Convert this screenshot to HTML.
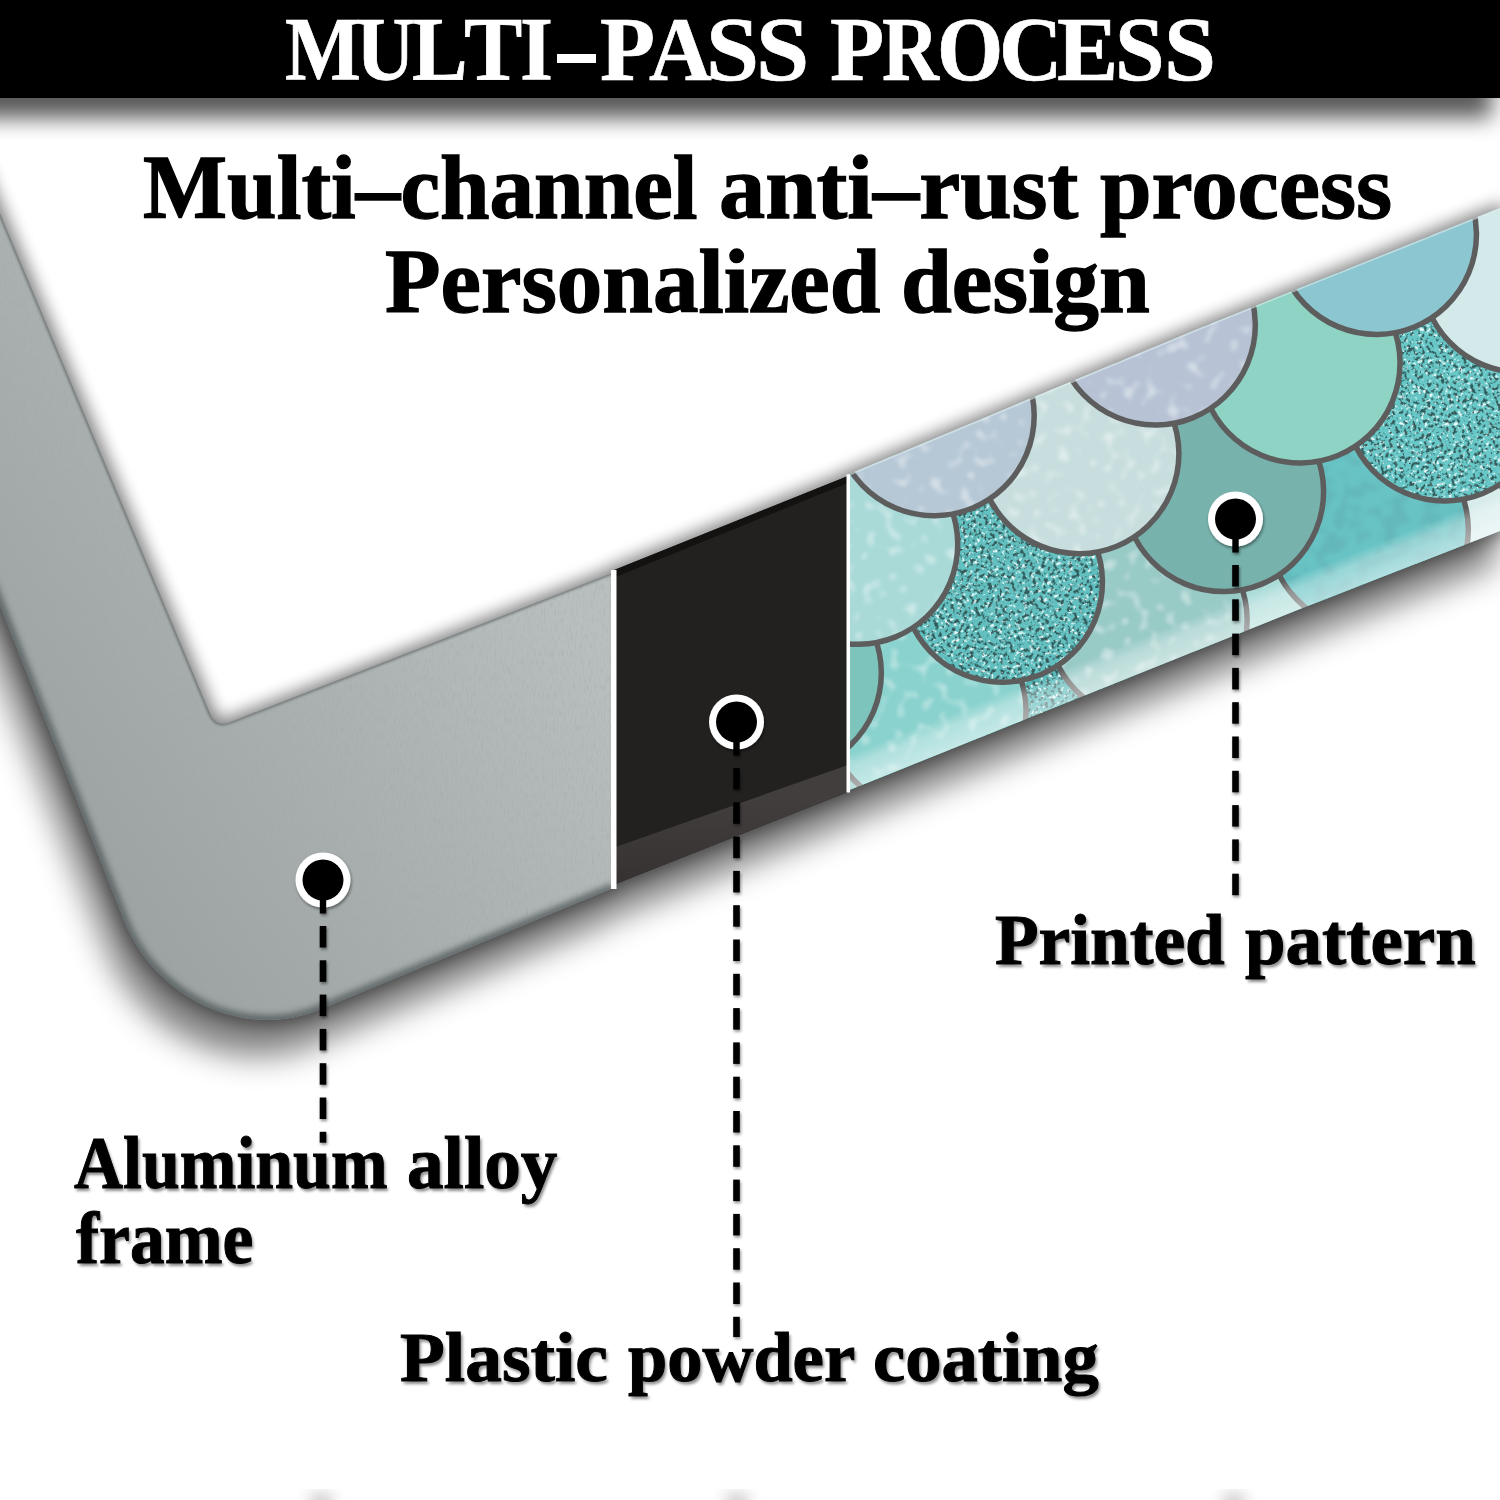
<!DOCTYPE html>
<html><head><meta charset="utf-8">
<style>
html,body{margin:0;padding:0;background:#fff;width:1500px;height:1500px;overflow:hidden;position:relative}
.t{position:absolute;font-family:"Liberation Serif",serif;font-weight:bold;white-space:nowrap;line-height:1;transform-origin:0 0}
.lab{text-shadow:2px 3px 3px rgba(0,0,0,.45);-webkit-text-stroke:1px #000}
.big{-webkit-text-stroke:1.3px #000}
.hdr{-webkit-text-stroke:0.7px #fff}
</style></head><body>
<svg width="1500" height="1500" viewBox="0 0 1500 1500" style="position:absolute;left:0;top:0">
<defs>
 <filter id="blurS" x="-20%" y="-20%" width="140%" height="140%"><feGaussianBlur stdDeviation="16"/></filter>
 <filter id="blurA" x="-20%" y="-20%" width="140%" height="140%"><feGaussianBlur stdDeviation="8"/></filter>
 <filter id="blur20" x="-20%" y="-20%" width="140%" height="140%"><feGaussianBlur stdDeviation="24"/></filter>
 <filter id="speck" x="0" y="0" width="100%" height="100%">
  <feTurbulence type="fractalNoise" baseFrequency="0.28" numOctaves="3" seed="4" result="n"/>
  <feColorMatrix in="n" type="matrix" values="0 0 0 0 0.03  0 0 0 0 0.1  0 0 0 0 0.1  12 0 0 0 -6.6" result="dk"/>
  <feColorMatrix in="n" type="matrix" values="0 0 0 0 0.85  0 0 0 0 0.97  0 0 0 0 0.97  0 12 0 0 -7.4" result="wt"/>
  <feMerge result="mm"><feMergeNode in="wt"/><feMergeNode in="dk"/></feMerge>
  <feComposite in="mm" in2="SourceAlpha" operator="in"/>
 </filter>
 <linearGradient id="bev" gradientUnits="userSpaceOnUse" x1="0" y1="800" x2="0" y2="880">
  <stop offset="0" stop-color="#423e3e"/><stop offset="1" stop-color="#363232"/>
 </linearGradient>
 <filter id="blur6" x="-20%" y="-50%" width="140%" height="200%"><feGaussianBlur stdDeviation="9"/></filter>
 <filter id="ds" x="-50%" y="-50%" width="200%" height="200%"><feDropShadow dx="1" dy="2" stdDeviation="1.6" flood-color="#000" flood-opacity=".45"/></filter>
 <linearGradient id="bstrip" gradientUnits="userSpaceOnUse" x1="1087.6" y1="659" x2="1100" y2="690">
  <stop offset="0" stop-color="#fff" stop-opacity="0"/><stop offset=".35" stop-color="#fff" stop-opacity=".32"/><stop offset="1" stop-color="#fff" stop-opacity=".5"/>
 </linearGradient>
 <filter id="blurH" x="-20%" y="-50%" width="140%" height="200%"><feGaussianBlur stdDeviation="11"/></filter>
 <filter id="bokeh" x="0" y="0" width="100%" height="100%">
  <feTurbulence type="fractalNoise" baseFrequency="0.085" numOctaves="1" seed="11" result="n"/>
  <feColorMatrix in="n" type="matrix" values="0 0 0 0 1  0 0 0 0 1  0 0 0 0 1  0 5 0 0 -2.75" result="w"/>
  <feGaussianBlur in="w" stdDeviation="1.5" result="wb"/>
  <feComposite in="wb" in2="SourceAlpha" operator="in" result="c"/>
  <feComponentTransfer in="c"><feFuncA type="linear" slope=".4"/></feComponentTransfer>
 </filter>
 <filter id="marble" x="0" y="0" width="100%" height="100%">
  <feTurbulence type="fractalNoise" baseFrequency="0.07" numOctaves="2" seed="21" result="n"/>
  <feColorMatrix in="n" type="matrix" values="0 0 0 0 0.12  0 0 0 0 0.45  0 0 0 0 0.47  9 0 0 0 -4.3" result="w"/>
  <feGaussianBlur in="w" stdDeviation="2" result="wb"/>
  <feComposite in="wb" in2="SourceAlpha" operator="in" result="c"/>
  <feComponentTransfer in="c"><feFuncA type="linear" slope=".7"/></feComponentTransfer>
 </filter>
 <clipPath id="gclip"><path d="M -238 0 L -89.5 0 L 210.2 713.7 Q 216 727.5 230 722 L 613 572.5 L 613 888 L 320 1009.5 C 243.3 1041.3, 154.2 997.3, 123.8 920 L -238 0 Z"/></clipPath>
 <filter id="blur3" x="-10%" y="-10%" width="120%" height="120%"><feGaussianBlur stdDeviation="3"/></filter>
 <filter id="blur1" x="-10%" y="-10%" width="120%" height="120%"><feGaussianBlur stdDeviation="1"/></filter>
 <clipPath id="mclip"><polygon points="847,475 1200,328 1400,248 1500,208 1500,531 1300,609 847,791"/></clipPath>
 <linearGradient id="gg" gradientUnits="userSpaceOnUse" x1="150" y1="950" x2="600" y2="650">
  <stop offset="0" stop-color="#9da3a3"/><stop offset="1" stop-color="#b9bfbf"/>
 </linearGradient>
 <filter id="grain" x="0" y="0" width="100%" height="100%">
  <feTurbulence type="fractalNoise" baseFrequency="0.9 0.12" numOctaves="2" seed="7" result="n"/>
  <feColorMatrix in="n" type="matrix" values="0 0 0 0 0.35  0 0 0 0 0.38  0 0 0 0 0.38  0 0 0 3 -1.45" result="m"/>
  <feComposite in="m" in2="SourceAlpha" operator="in"/>
 </filter>
 <linearGradient id="bevB" gradientUnits="userSpaceOnUse" x1="0" y1="0" x2="0" y2="1">
 </linearGradient>
</defs>
<!-- header shadow -->
<rect x="-40" y="-20" width="1532" height="138" fill="#000" opacity=".65" filter="url(#blurH)"/>
<rect x="0" y="0" width="1500" height="98" fill="#000"/>
<!-- frame shadow -->
<g filter="url(#blurA)" opacity=".42">
 <path d="M -238 0 L -89.5 0 L 210.2 713.7 Q 216 727.5 230 722 L 613 572.5 L 613 888 L 320 1009.5 C 243.3 1041.3, 154.2 997.3, 123.8 920 L -238 0 Z" fill="#000" stroke="#000" stroke-width="10" stroke-linejoin="round"/>
 <polygon points="613,570.5 848,476 848,792 613,885" fill="#000" stroke="#000" stroke-width="10" stroke-linejoin="round"/>
 <polygon points="847,475 1200,328 1400,248 1500,208 1500,531 1300,609 847,791" fill="#000" stroke="#000" stroke-width="10" stroke-linejoin="round"/>
</g>
<g filter="url(#blurS)" opacity=".5" transform="translate(-10,30)">
 <path d="M -238 0 L -89.5 0 L 210.2 713.7 Q 216 727.5 230 722 L 613 572.5 L 613 888 L 320 1009.5 C 243.3 1041.3, 154.2 997.3, 123.8 920 L -238 0 Z" fill="#000" stroke="#000" stroke-width="12" stroke-linejoin="round"/>
 <polygon points="613,570.5 848,476 848,792 613,885" fill="#000" stroke="#000" stroke-width="12" stroke-linejoin="round"/>
 <polygon points="847,475 1200,328 1400,248 1500,208 1500,531 1300,609 847,791" fill="#000" stroke="#000" stroke-width="12" stroke-linejoin="round"/>
</g>
<!-- aluminium -->
<path d="M -238 0 L -89.5 0 L 210.2 713.7 Q 216 727.5 230 722 L 613 572.5 L 613 888 L 320 1009.5 C 243.3 1041.3, 154.2 997.3, 123.8 920 L -238 0 Z" fill="url(#gg)"/>
<path d="M -238 0 L -89.5 0 L 210.2 713.7 Q 216 727.5 230 722 L 613 572.5 L 613 888 L 320 1009.5 C 243.3 1041.3, 154.2 997.3, 123.8 920 L -238 0 Z" fill="#000" filter="url(#grain)" opacity=".35"/>
<g clip-path="url(#gclip)"><path d="M -238 0 L 123.8 920 C 154.2 997.3, 243.3 1041.3, 320 1009.5 L 613 888" fill="none" stroke="#50585a" stroke-width="10" opacity=".8" filter="url(#blur3)"/>
<path d="M -86 -2 L 213.5 712 Q 219 724 232 719 L 613 569.5" fill="none" stroke="#c4caca" stroke-width="5" opacity=".55" filter="url(#blur1)"/>
<path d="M -89.5 0 L 210.2 713.7 Q 216 727.5 230 722 L 613 572.5" fill="none" stroke="#6a7070" stroke-width="4" opacity=".8" filter="url(#blur1)"/></g>
<!-- black coating -->
<polygon points="613,570.5 848,476 848,792 613,885" fill="#232120"/>
<polygon points="613,570.5 848,476 848,483 613,578" fill="#141111"/>
<polygon points="613,848 848,765 848,792 613,885" fill="url(#bev)"/>
<rect x="611" y="570" width="5.5" height="319" fill="#fff"/>
<!-- mermaid -->
<g clip-path="url(#mclip)">
 <rect x="800" y="150" width="750" height="700" fill="#9fd4d0"/>
 <g transform="translate(850,474) rotate(-22.29)">
<circle cx="-139.0" cy="338.0" r="100" fill="#80c8c0"/>
<circle cx="-139.0" cy="338.0" r="98" fill="#000" filter="url(#marble)"/>
<circle cx="-139.0" cy="338.0" r="100" fill="none" stroke="#5d5d5d" stroke-width="5.5"/>
<circle cx="100.0" cy="338.0" r="100" fill="#55b8b8"/>
<circle cx="100.0" cy="338.0" r="98" fill="#000" filter="url(#speck)"/>
<circle cx="100.0" cy="338.0" r="100" fill="none" stroke="#5d5d5d" stroke-width="5.5"/>
<circle cx="339.0" cy="338.0" r="100" fill="#acdcd8"/>
<circle cx="339.0" cy="338.0" r="100" fill="none" stroke="#5d5d5d" stroke-width="5.5"/>
<circle cx="578.0" cy="338.0" r="100" fill="#d8ecec"/>
<circle cx="578.0" cy="338.0" r="100" fill="none" stroke="#5d5d5d" stroke-width="5.5"/>
<circle cx="817.0" cy="338.0" r="100" fill="#9fd4d0"/>
<circle cx="817.0" cy="338.0" r="100" fill="none" stroke="#5d5d5d" stroke-width="5.5"/>
<circle cx="-19.5" cy="248.0" r="100" fill="#8ad2ce"/>
<circle cx="-19.5" cy="248.0" r="98" fill="#000" filter="url(#bokeh)"/>
<circle cx="-19.5" cy="248.0" r="100" fill="none" stroke="#5d5d5d" stroke-width="5.5"/>
<circle cx="219.5" cy="248.0" r="100" fill="#98cac6"/>
<circle cx="219.5" cy="248.0" r="98" fill="#000" filter="url(#bokeh)"/>
<circle cx="219.5" cy="248.0" r="100" fill="none" stroke="#5d5d5d" stroke-width="5.5"/>
<circle cx="458.5" cy="248.0" r="100" fill="#68c3c4"/>
<circle cx="458.5" cy="248.0" r="98" fill="#000" filter="url(#marble)"/>
<circle cx="458.5" cy="248.0" r="100" fill="none" stroke="#5d5d5d" stroke-width="5.5"/>
<circle cx="697.5" cy="248.0" r="100" fill="#d5eaea"/>
<circle cx="697.5" cy="248.0" r="100" fill="none" stroke="#5d5d5d" stroke-width="5.5"/>
<circle cx="936.5" cy="248.0" r="100" fill="#9fd4d0"/>
<circle cx="936.5" cy="248.0" r="100" fill="none" stroke="#5d5d5d" stroke-width="5.5"/>
<circle cx="-139.0" cy="158.0" r="100" fill="#7cc4bc"/>
<circle cx="-139.0" cy="158.0" r="100" fill="none" stroke="#5d5d5d" stroke-width="5.5"/>
<circle cx="100.0" cy="158.0" r="100" fill="#62c0c0"/>
<circle cx="100.0" cy="158.0" r="98" fill="#000" filter="url(#speck)"/>
<circle cx="100.0" cy="158.0" r="100" fill="none" stroke="#5d5d5d" stroke-width="5.5"/>
<circle cx="339.0" cy="158.0" r="100" fill="#78b2ac"/>
<circle cx="339.0" cy="158.0" r="100" fill="none" stroke="#5d5d5d" stroke-width="5.5"/>
<circle cx="578.0" cy="158.0" r="100" fill="#68c8c8"/>
<circle cx="578.0" cy="158.0" r="98" fill="#000" filter="url(#speck)"/>
<circle cx="578.0" cy="158.0" r="100" fill="none" stroke="#5d5d5d" stroke-width="5.5"/>
<circle cx="817.0" cy="158.0" r="100" fill="#a0d8d8"/>
<circle cx="817.0" cy="158.0" r="100" fill="none" stroke="#5d5d5d" stroke-width="5.5"/>
<circle cx="-19.5" cy="68.0" r="100" fill="#a9dad8"/>
<circle cx="-19.5" cy="68.0" r="98" fill="#000" filter="url(#bokeh)"/>
<circle cx="-19.5" cy="68.0" r="100" fill="none" stroke="#5d5d5d" stroke-width="5.5"/>
<circle cx="219.5" cy="68.0" r="100" fill="#c8dede"/>
<circle cx="219.5" cy="68.0" r="98" fill="#000" filter="url(#bokeh)"/>
<circle cx="219.5" cy="68.0" r="100" fill="none" stroke="#5d5d5d" stroke-width="5.5"/>
<circle cx="458.5" cy="68.0" r="100" fill="#8ed3c3"/>
<circle cx="458.5" cy="68.0" r="100" fill="none" stroke="#5d5d5d" stroke-width="5.5"/>
<circle cx="697.5" cy="68.0" r="100" fill="#d3e9ea"/>
<circle cx="697.5" cy="68.0" r="100" fill="none" stroke="#5d5d5d" stroke-width="5.5"/>
<circle cx="936.5" cy="68.0" r="100" fill="#9fd4d0"/>
<circle cx="936.5" cy="68.0" r="100" fill="none" stroke="#5d5d5d" stroke-width="5.5"/>
<circle cx="-139.0" cy="-22.0" r="100" fill="#a8d8d8"/>
<circle cx="-139.0" cy="-22.0" r="100" fill="none" stroke="#5d5d5d" stroke-width="5.5"/>
<circle cx="100.0" cy="-22.0" r="100" fill="#b6c8d6"/>
<circle cx="100.0" cy="-22.0" r="98" fill="#000" filter="url(#bokeh)"/>
<circle cx="100.0" cy="-22.0" r="100" fill="none" stroke="#5d5d5d" stroke-width="5.5"/>
<circle cx="339.0" cy="-22.0" r="100" fill="#b7c3d5"/>
<circle cx="339.0" cy="-22.0" r="98" fill="#000" filter="url(#bokeh)"/>
<circle cx="339.0" cy="-22.0" r="100" fill="none" stroke="#5d5d5d" stroke-width="5.5"/>
<circle cx="578.0" cy="-22.0" r="100" fill="#8cc6d1"/>
<circle cx="578.0" cy="-22.0" r="100" fill="none" stroke="#5d5d5d" stroke-width="5.5"/>
<circle cx="817.0" cy="-22.0" r="100" fill="#cfe5e6"/>
<circle cx="817.0" cy="-22.0" r="100" fill="none" stroke="#5d5d5d" stroke-width="5.5"/>
 </g>
 <polygon points="847,751 1300,569 1500,491 1500,531 1300,609 847,791" fill="url(#bstrip)"/>
</g>
<g clip-path="url(#mclip)"><polyline points="847,475 1200,328 1400,248 1500,208" fill="none" stroke="#e6f0f0" stroke-width="3" opacity=".55"/></g>
<rect x="846.5" y="474.5" width="3.5" height="318" fill="#fff"/>
<g filter="url(#blur6)" opacity=".45"><ellipse cx="321" cy="1503" rx="9" ry="7" fill="#000"/><ellipse cx="737" cy="1503" rx="9" ry="7" fill="#000"/><ellipse cx="1234" cy="1503" rx="9" ry="7" fill="#000"/></g>
<!-- callouts -->
<g filter="url(#ds)">
<circle cx="323" cy="880" r="27.5" fill="#fff"/>
<circle cx="323" cy="880" r="20.5" fill="#000"/>
<rect x="319.8" y="880.0" width="6.4" height="33.5" fill="#000"/>
<rect x="319.7" y="926.0" width="6.6" height="21.5" fill="#000"/>
<rect x="319.7" y="960.3" width="6.6" height="21.5" fill="#000"/>
<rect x="319.7" y="994.6" width="6.6" height="21.5" fill="#000"/>
<rect x="319.7" y="1028.9" width="6.6" height="21.5" fill="#000"/>
<rect x="319.7" y="1063.2" width="6.6" height="21.5" fill="#000"/>
<rect x="319.7" y="1097.5" width="6.6" height="21.5" fill="#000"/>
<rect x="319.7" y="1131.8" width="6.6" height="10.9" fill="#000"/>
<circle cx="736.5" cy="722" r="27.5" fill="#fff"/>
<circle cx="736.5" cy="722" r="20.5" fill="#000"/>
<rect x="733.3" y="722.0" width="6.4" height="33.5" fill="#000"/>
<rect x="733.2" y="768.0" width="6.6" height="21.5" fill="#000"/>
<rect x="733.2" y="802.3" width="6.6" height="21.5" fill="#000"/>
<rect x="733.2" y="836.6" width="6.6" height="21.5" fill="#000"/>
<rect x="733.2" y="870.9" width="6.6" height="21.5" fill="#000"/>
<rect x="733.2" y="905.2" width="6.6" height="21.5" fill="#000"/>
<rect x="733.2" y="939.5" width="6.6" height="21.5" fill="#000"/>
<rect x="733.2" y="973.8" width="6.6" height="21.5" fill="#000"/>
<rect x="733.2" y="1008.1" width="6.6" height="21.5" fill="#000"/>
<rect x="733.2" y="1042.4" width="6.6" height="21.5" fill="#000"/>
<rect x="733.2" y="1076.7" width="6.6" height="21.5" fill="#000"/>
<rect x="733.2" y="1111.0" width="6.6" height="21.5" fill="#000"/>
<rect x="733.2" y="1145.3" width="6.6" height="21.5" fill="#000"/>
<rect x="733.2" y="1179.6" width="6.6" height="21.5" fill="#000"/>
<rect x="733.2" y="1213.9" width="6.6" height="21.5" fill="#000"/>
<rect x="733.2" y="1248.2" width="6.6" height="21.5" fill="#000"/>
<rect x="733.2" y="1282.5" width="6.6" height="21.5" fill="#000"/>
<rect x="733.2" y="1316.8" width="6.6" height="20.2" fill="#000"/>
<circle cx="1235.5" cy="519" r="27.5" fill="#fff"/>
<circle cx="1235.5" cy="519" r="20.5" fill="#000"/>
<rect x="1232.3" y="519.0" width="6.4" height="33.5" fill="#000"/>
<rect x="1232.2" y="565.0" width="6.6" height="21.5" fill="#000"/>
<rect x="1232.2" y="599.3" width="6.6" height="21.5" fill="#000"/>
<rect x="1232.2" y="633.6" width="6.6" height="21.5" fill="#000"/>
<rect x="1232.2" y="667.9" width="6.6" height="21.5" fill="#000"/>
<rect x="1232.2" y="702.2" width="6.6" height="21.5" fill="#000"/>
<rect x="1232.2" y="736.5" width="6.6" height="21.5" fill="#000"/>
<rect x="1232.2" y="770.8" width="6.6" height="21.5" fill="#000"/>
<rect x="1232.2" y="805.1" width="6.6" height="21.5" fill="#000"/>
<rect x="1232.2" y="839.4" width="6.6" height="21.5" fill="#000"/>
<rect x="1232.2" y="873.7" width="6.6" height="21.5" fill="#000"/>
</g>
</svg>
<div class="t big" style="left:142.6px;top:142.2px;font-size:91.69px;color:#000;transform:scaleX(0.9719)">Multi–channel</div>
<div class="t big" style="left:718.8px;top:142.2px;font-size:91.69px;color:#000;transform:scaleX(1.0076)">anti–rust</div>
<div class="t big" style="left:1100.4px;top:142.2px;font-size:91.69px;color:#000;transform:scaleX(1.0124)">process</div>
<div class="t big" style="left:384.5px;top:236.5px;font-size:90.15px;color:#000;transform:scaleX(1.0096)">Personalized</div>
<div class="t big" style="left:901.3px;top:236.5px;font-size:90.15px;color:#000;transform:scaleX(1.0137)">design</div>
<div class="t lab" style="left:74.0px;top:1125.8px;font-size:74.92px;color:#000;transform:scaleX(0.9075)">Aluminum</div>
<div class="t lab" style="left:406.6px;top:1125.8px;font-size:74.92px;color:#000;transform:scaleX(0.9772)">alloy</div>
<div class="t lab" style="left:75.6px;top:1200.5px;font-size:74.92px;color:#000;transform:scaleX(0.9269)">frame</div>
<div class="t lab" style="left:400.0px;top:1322.3px;font-size:70.77px;color:#000;transform:scaleX(1.0372)">Plastic</div>
<div class="t lab" style="left:627.6px;top:1322.3px;font-size:70.77px;color:#000;transform:scaleX(0.9967)">powder</div>
<div class="t lab" style="left:872.5px;top:1322.3px;font-size:70.77px;color:#000;transform:scaleX(1.0255)">coating</div>
<div class="t lab" style="left:995.1px;top:904.1px;font-size:71.54px;color:#000;transform:scaleX(0.9969)">Printed</div>
<div class="t lab" style="left:1244.5px;top:904.1px;font-size:71.54px;color:#000;transform:scaleX(1.0186)">pattern</div>
<div class="t hdr" style="left:284.9px;top:3.6px;font-size:91.23px;color:#fff;transform:scaleX(0.8806)">M</div>
<div class="t hdr" style="left:356.4px;top:3.6px;font-size:91.23px;color:#fff;transform:scaleX(0.8946)">U</div>
<div class="t hdr" style="left:412.3px;top:3.6px;font-size:91.23px;color:#fff;transform:scaleX(0.9134)">L</div>
<div class="t hdr" style="left:464.0px;top:3.6px;font-size:91.23px;color:#fff;transform:scaleX(0.9587)">T</div>
<div class="t hdr" style="left:520.2px;top:3.6px;font-size:91.23px;color:#fff;transform:scaleX(0.9300)">I</div>
<div class="t hdr" style="left:599.8px;top:3.6px;font-size:91.23px;color:#fff;transform:scaleX(0.9865)">P</div>
<div class="t hdr" style="left:649.1px;top:3.6px;font-size:91.23px;color:#fff;transform:scaleX(0.9521)">A</div>
<div class="t hdr" style="left:706.0px;top:3.6px;font-size:91.23px;color:#fff;transform:scaleX(1.0461)">S</div>
<div class="t hdr" style="left:756.2px;top:3.6px;font-size:91.23px;color:#fff;transform:scaleX(1.0485)">S</div>
<div class="t hdr" style="left:830.2px;top:3.6px;font-size:91.23px;color:#fff;transform:scaleX(0.9709)">P</div>
<div class="t hdr" style="left:881.9px;top:3.6px;font-size:91.23px;color:#fff;transform:scaleX(0.8645)">R</div>
<div class="t hdr" style="left:937.0px;top:3.6px;font-size:91.23px;color:#fff;transform:scaleX(0.9333)">O</div>
<div class="t hdr" style="left:999.4px;top:3.6px;font-size:91.23px;color:#fff;transform:scaleX(0.9628)">C</div>
<div class="t hdr" style="left:1057.0px;top:3.6px;font-size:91.23px;color:#fff;transform:scaleX(1.0066)">E</div>
<div class="t hdr" style="left:1115.0px;top:3.6px;font-size:91.23px;color:#fff;transform:scaleX(0.9770)">S</div>
<div class="t hdr" style="left:1164.3px;top:3.6px;font-size:91.23px;color:#fff;transform:scaleX(1.0246)">S</div>
<div style="position:absolute;left:556.8px;top:54px;width:39.2px;height:9.2px;background:#fff"></div>
</body></html>
